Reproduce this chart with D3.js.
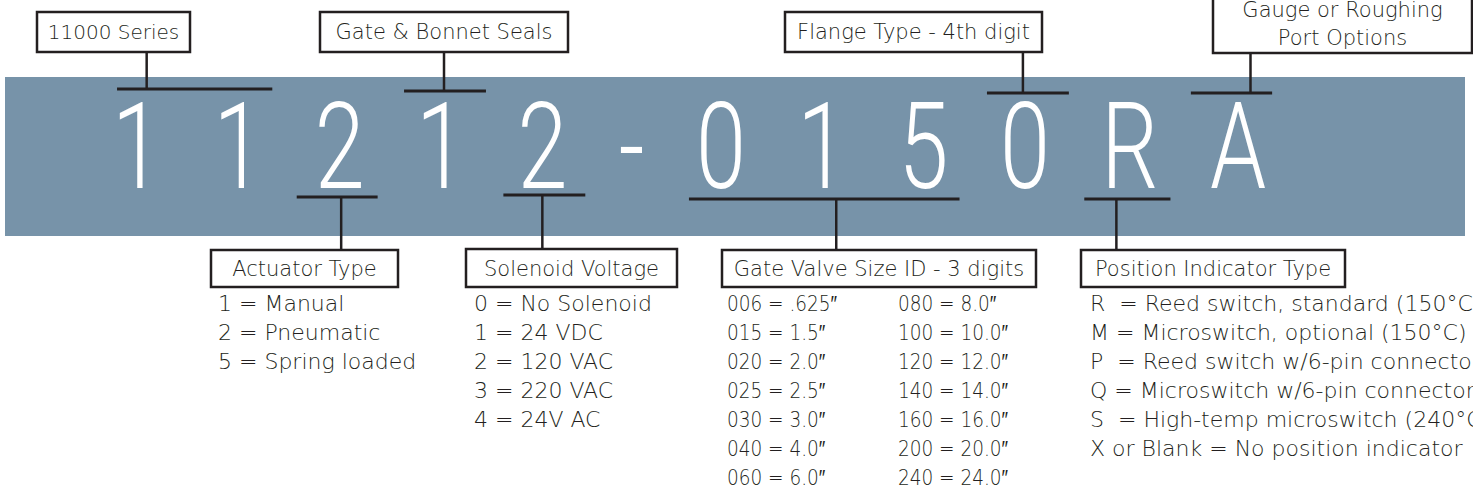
<!DOCTYPE html>
<html>
<head>
<meta charset="utf-8">
<script src="https://cdn.jsdelivr.net/npm/d3@7"></script>
<style>
  body { margin: 0; background: #fff; }
  svg { display: block; }
</style>
</head>
<body>
<div id="chart"></div>
<script>
// part number characters
const codeChars = ["1", "1", "2", "1", "2", "-", "0", "1", "5", "0", "R", "A"];

// labels above the band and which characters they point at
const topLabels = ["11000 Series", "Gate & Bonnet Seals", "Flange Type - 4th digit", ["Gauge or Roughing", "Port Options"]];
const topSpans = [[0, 1], [3, 3], [9, 9], [11, 11]];

// labels below the band
const bottomLabels = ["Actuator Type", "Solenoid Voltage", "Gate Valve Size ID - 3 digits", "Position Indicator Type"];
const bottomSpans = [[2, 2], [4, 4], [6, 8], [10, 10]];

// option lists
const actuatorOptions = ["1 = Manual", "2 = Pneumatic", "5 = Spring loaded"];
const solenoidOptions = ["0 = No Solenoid", "1 = 24 VDC", "2 = 120 VAC", "3 = 220 VAC", "4 = 24V AC"];
const sizeCodes = ["006", "015", "020", "025", "030", "040", "060", "080", "100", "120", "140", "160", "200", "240"];
const sizeInches = [".625", "1.5", "2.0", "2.5", "3.0", "4.0", "6.0", "8.0", "10.0", "12.0", "14.0", "16.0", "20.0", "24.0"];
const positionOptions = [
  "R  = Reed switch, standard (150°C)",
  "M = Microswitch, optional (150°C)",
  "P  = Reed switch w/6-pin connector",
  "Q = Microswitch w/6-pin connector",
  "S  = High-temp microswitch (240°C)",
  "X or Blank = No position indicator",
];

function drawDiagram(id) {
  const w = 1473;
  const h = 491;
  const ink = "#231f20";
  const font = "'DejaVu Sans', sans-serif";
  const codeFont = "Roboto, 'Liberation Sans', sans-serif";
  const textWeight = 200;

  // layout of the boxes (kept apart from the data)
  const topLayout = [
    { x: 37, y: 12, w: 153, h: 40, base: 39, barY: 89, pad: [-5, 9], stemDx: -48, size: 20 },
    { x: 320, y: 12, w: 248, h: 40, base: 39, barY: 91, pad: [12, 20], stemDx: -1, size: 21 },
    { x: 785, y: 12, w: 257, h: 40, base: 39, barY: 93, pad: [13, 19], stemDx: -5, size: 21 },
    { x: 1213, y: -24, w: 259, h: 77, base: 45, barY: 93, pad: [19, 6], stemDx: 19, size: 21 },
  ];
  const bottomLayout = [
    { x: 211, y: 250, w: 187, h: 37, base: 276, barY: 197, pad: [18, 13], stemDx: 4, size: 21 },
    { x: 466, y: 249, w: 211, h: 38, base: 276, barY: 195, pad: [14, 18], stemDx: -2, size: 21 },
    { x: 722, y: 250, w: 314, h: 37, base: 276, barY: 199, pad: [7, 11], stemDx: 12, size: 21 },
    { x: 1081, y: 250, w: 264, h: 37, base: 276, barY: 199, pad: [17, 12], stemDx: -11, size: 21 },
  ];

  const svg = d3
    .select(`#${id}`)
    .append("svg")
    .attr("width", w)
    .attr("height", h)
    .attr("viewBox", [0, 0, w, h]);

  svg.append("rect").attr("width", w).attr("height", h).attr("fill", "#fff");

  // blue band
  svg
    .append("rect")
    .attr("x", 5)
    .attr("y", 77)
    .attr("width", 1460)
    .attr("height", 159)
    .attr("fill", "#7793a9");

  // big code characters, condensed horizontally
  const codeSize = 120;
  const stretch = 0.75;
  const codeBase = 188;
  const measure = svg
    .append("text")
    .attr("font-family", codeFont)
    .attr("font-weight", 300)
    .attr("font-size", codeSize);
  const widths = codeChars.map((c) => {
    measure.text(c);
    return measure.node().getComputedTextLength() * stretch;
  });
  measure.remove();

  // spread characters so the first and last land where the picture has them
  const firstX = 137;
  const lastX = 1238;
  let halfSum = 0;
  for (let i = 1; i < widths.length; i++) halfSum += (widths[i - 1] + widths[i]) / 2;
  const gap = (lastX - firstX - halfSum) / (widths.length - 1);
  const centers = [firstX];
  for (let i = 1; i < widths.length; i++) {
    centers.push(centers[i - 1] + (widths[i - 1] + widths[i]) / 2 + gap);
  }
  const xChar = d3.scaleOrdinal().domain(d3.range(codeChars.length)).range(centers);

  svg
    .append("g")
    .attr("class", "code")
    .selectAll("text")
    .data(codeChars)
    .enter()
    .append("text")
    .attr("transform", (d, i) => `translate(${xChar(i)},${codeBase}) scale(${stretch},1)`)
    .attr("text-anchor", "middle")
    .attr("font-family", codeFont)
    .attr("font-weight", 300)
    .attr("font-size", codeSize)
    .attr("fill", "#fff")
    .text((d) => d);

  // brackets + boxes
  function drawLabels(labels, spans, layout, above) {
    labels.forEach((label, k) => {
      const L = layout[k];
      const [a, b] = spans[k];
      const x0 = xChar(a) - widths[a] / 2 - L.pad[0];
      const x1 = xChar(b) + widths[b] / 2 + L.pad[1];
      const stemX = (x0 + x1) / 2 + L.stemDx;
      const g = svg.append("g").attr("class", "label");

      g.append("line")
        .attr("x1", x0)
        .attr("x2", x1)
        .attr("y1", L.barY)
        .attr("y2", L.barY)
        .attr("stroke", ink)
        .attr("stroke-width", 3);

      g.append("line")
        .attr("x1", stemX)
        .attr("x2", stemX)
        .attr("y1", L.barY)
        .attr("y2", above ? L.y + L.h : L.y)
        .attr("stroke", ink)
        .attr("stroke-width", 2.5);

      g.append("rect")
        .attr("x", L.x)
        .attr("y", L.y)
        .attr("width", L.w)
        .attr("height", L.h)
        .attr("fill", "#fff")
        .attr("stroke", ink)
        .attr("stroke-width", 2.5);

      const lines = Array.isArray(label) ? label : [label];
      const lineH = 28;
      g.selectAll("text")
        .data(lines)
        .enter()
        .append("text")
        .attr("x", L.x + L.w / 2)
        .attr("y", (d, i) => L.base - (lines.length - 1 - i) * lineH)
        .attr("text-anchor", "middle")
        .attr("font-family", font)
        .attr("font-weight", textWeight)
        .attr("font-size", L.size)
        .attr("fill", ink)
        .text((d) => d);
    });
  }
  drawLabels(topLabels, topSpans, topLayout, true);
  drawLabels(bottomLabels, bottomSpans, bottomLayout, false);

  // option lists
  const rowY = d3.scaleLinear().domain([0, 1]).range([311, 340]);

  function drawList(items, x, sx = 1) {
    svg
      .append("g")
      .attr("transform", `translate(${x},0) scale(${sx},1)`)
      .selectAll("text")
      .data(items)
      .enter()
      .append("text")
      .attr("x", 0)
      .attr("y", (d, i) => rowY(i))
      .attr("font-family", font)
      .attr("font-weight", textWeight)
      .attr("font-size", 22)
      .attr("fill", ink)
      .style("white-space", "pre")
      .text((d) => d);
  }
  drawList(actuatorOptions, 218);
  drawList(solenoidOptions, 474);

  // size table is set narrower in the original
  const sizeItems = sizeCodes.map((c, i) => `${c} = ${sizeInches[i]}\u2033`);
  drawList(sizeItems.slice(0, 7), 727, 0.84);
  drawList(sizeItems.slice(7), 898, 0.84);

  drawList(positionOptions, 1090);
}

document.addEventListener("DOMContentLoaded", function () {
  drawDiagram("chart");
});
</script>
</body>
</html>
